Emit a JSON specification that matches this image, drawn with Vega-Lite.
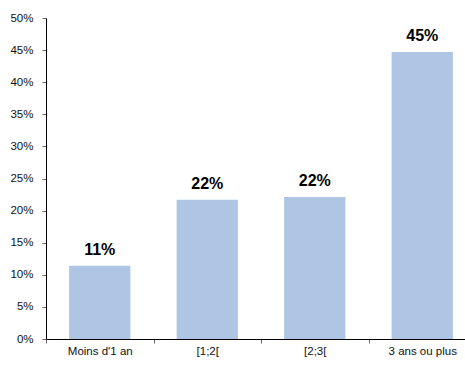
{
  "$schema": "https://vega.github.io/schema/vega-lite/v6.json",
  "width": 419,
  "height": 321,
  "autosize": {"type": "none"},
  "padding": {"left": 46, "top": 18, "right": 0, "bottom": 26},
  "background": "white",
  "config": {"view": {"stroke": null}, "font": "Liberation Sans"},
  "data": {"values": [
    {"cat": "Moins d'1 an", "v": 0.114, "lab": "11%"},
    {"cat": "[1;2[", "v": 0.217, "lab": "22%"},
    {"cat": "[2;3[", "v": 0.221, "lab": "22%"},
    {"cat": "3 ans ou plus", "v": 0.447, "lab": "45%"}
  ]},
  "encoding": {
    "x": {"field": "cat", "type": "nominal", "sort": null,
      "scale": {"range": [0, 430], "paddingInner": 0, "paddingOuter": 0},
      "axis": {"title": null, "labelAngle": 0, "tickBand": "extent", "domainColor": "black", "tickColor": "#666", "tickSize": 4, "labelPadding": 2, "labelFontSize": 11.5, "labelColor": "#111", "labelFont": "Liberation Sans"}},
    "y": {"field": "v", "type": "quantitative",
      "scale": {"domain": [0, 0.5], "nice": false},
      "axis": {"title": null, "values": [0, 0.05, 0.1, 0.15, 0.2, 0.25, 0.3, 0.35, 0.4, 0.45, 0.5], "format": ".0%", "grid": false, "domainColor": "black", "tickColor": "#666", "tickSize": 4, "labelPadding": 9, "labelFontSize": 11.5, "labelColor": "#111", "labelFont": "Liberation Sans"}}
  },
  "layer": [
    {"mark": {"type": "bar", "color": "#AFC5E4", "width": {"band": 0.57}}},
    {"mark": {"type": "text", "baseline": "bottom", "dy": -8, "fontSize": 16, "fontWeight": "bold", "color": "black", "font": "Liberation Sans"},
     "encoding": {"text": {"field": "lab"}}}
  ]
}
